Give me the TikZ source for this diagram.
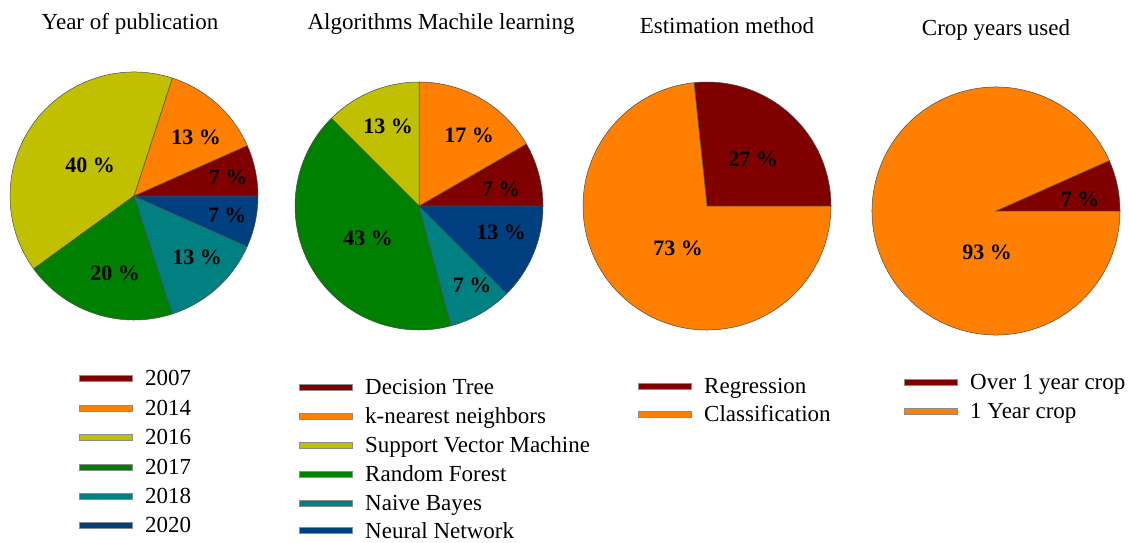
\documentclass[tikz,border=0pt]{standalone}
\usepackage{fontspec}
\setmainfont{Liberation Serif}
\definecolor{cDT}{RGB}{128,0,0}
\definecolor{cOR}{RGB}{255,128,0}
\definecolor{cYE}{RGB}{192,192,0}
\definecolor{cGR}{RGB}{0,128,0}
\definecolor{cTE}{RGB}{0,128,128}
\definecolor{cBL}{RGB}{0,64,128}
\newcommand\pieslice[4]{%
  \filldraw[fill=#4,draw=black!70,line width=0.5pt] (#1) -- ++(#2:124) arc[start angle=#2,end angle=#3,radius=124] -- cycle;}
\newcommand\legitem[5]{%
  \filldraw[fill=#4,draw=black!45,line width=0.6pt] (#1,#2-3.2) rectangle (#1+53,#2+3.2);
  \node[legtext,anchor=base west] (#5) at (#1+66,#2-7.5) {#3};}
\tikzset{
  title/.style={inner sep=0pt,font=\fontsize{23}{23}\selectfont,anchor=base},
  pct/.style={inner sep=0pt,font=\fontsize{22}{22}\selectfont\bfseries},
  legtext/.style={inner sep=0pt,font=\fontsize{23}{23}\selectfont},
}
\begin{document}
\begin{tikzpicture}[x=1pt,y=1pt]
\useasboundingbox (0,0) rectangle (1131,542);
% titles
\node[title] (t1) at (130,512) {Year of publication};
\node[title] (t2) at (441,512) {Algorithms Machile learning};
\node[title] (t3) at (727,508) {Estimation method};
\node[title] (t4) at (996,506) {Crop years used};
% pie 1
\coordinate (c1) at (134,346);
\pieslice{c1}{0}{24}{cDT}
\pieslice{c1}{24}{72}{cOR}
\pieslice{c1}{72}{216}{cYE}
\pieslice{c1}{216}{288}{cGR}
\pieslice{c1}{288}{336}{cTE}
\pieslice{c1}{336}{360}{cBL}
\node[pct] (p1a) at (90,377) {40 \%};
\node[pct] (p1b) at (196,405) {13 \%};
\node[pct] (p1c) at (228,365) {7 \%};
\node[pct] (p1d) at (227,327) {7 \%};
\node[pct] (p1e) at (197,285) {13 \%};
\node[pct] (p1f) at (115,269) {20 \%};
% pie 2
\coordinate (c2) at (419,336);
\pieslice{c2}{0}{30}{cDT}
\pieslice{c2}{30}{90}{cOR}
\pieslice{c2}{90}{135}{cYE}
\pieslice{c2}{135}{285}{cGR}
\pieslice{c2}{285}{315}{cTE}
\pieslice{c2}{315}{360}{cBL}
\node[pct] (p2a) at (388,416) {13 \%};
\node[pct] (p2b) at (469,407) {17 \%};
\node[pct] (p2c) at (501,353) {7 \%};
\node[pct] (p2d) at (501,310) {13 \%};
\node[pct] (p2e) at (472,257) {7 \%};
\node[pct] (p2f) at (368,304) {43 \%};
% pie 3
\coordinate (c3) at (707,336);
\pieslice{c3}{0}{96}{cDT}
\pieslice{c3}{96}{360}{cOR}
\node[pct] (p3a) at (753,383) {27 \%};
\node[pct] (p3b) at (678,294) {73 \%};
% pie 4
\coordinate (c4) at (996,331);
\pieslice{c4}{0}{24}{cDT}
\pieslice{c4}{24}{360}{cOR}
\node[pct] (p4a) at (1080,343) {7 \%};
\node[pct] (p4b) at (987,290) {93 \%};
% legend 1
\legitem{79}{164}{2007}{cDT}{l1a}
\legitem{79}{134}{2014}{cOR}{l1b}
\legitem{79}{105}{2016}{cYE}{l1c}
\legitem{79}{75}{2017}{cGR}{l1d}
\legitem{79}{46}{2018}{cTE}{l1e}
\legitem{79}{17}{2020}{cBL}{l1f}
% legend 2
\legitem{299}{155}{Decision Tree}{cDT}{l2a}
\legitem{299}{126}{k-nearest neighbors}{cOR}{l2b}
\legitem{299}{97}{Support Vector Machine}{cYE}{l2c}
\legitem{299}{68}{Random Forest}{cGR}{l2d}
\legitem{299}{39}{Naive Bayes}{cTE}{l2e}
\legitem{299}{11.5}{Neural Network}{cBL}{l2f}
% legend 3
\legitem{638}{156}{Regression}{cDT}{l3a}
\legitem{638}{128}{Classification}{cOR}{l3b}
% legend 4
\legitem{904}{160}{Over 1 year crop}{cDT}{l4a}
\legitem{904}{131}{1 Year crop}{cOR}{l4b}
\end{tikzpicture}
\end{document}
